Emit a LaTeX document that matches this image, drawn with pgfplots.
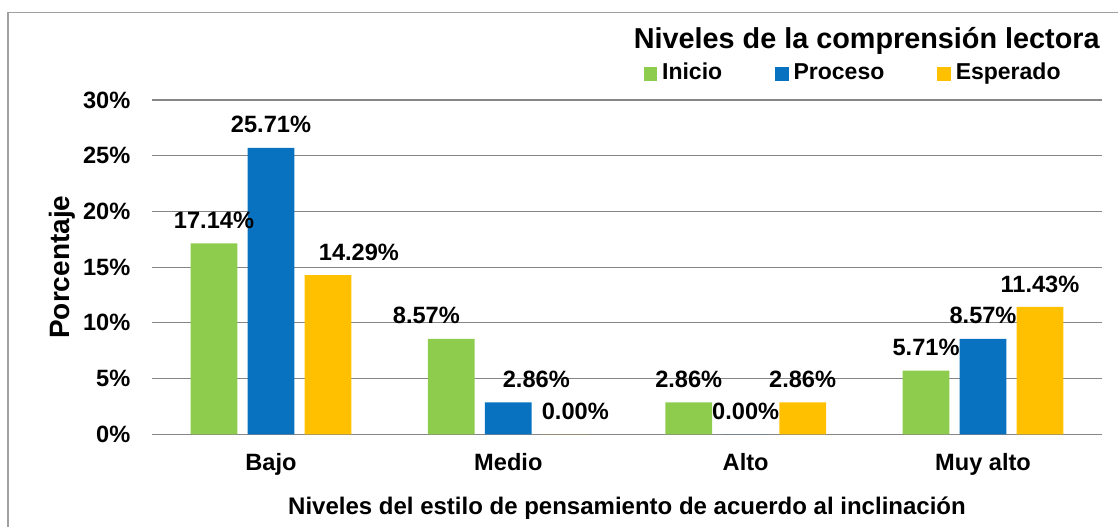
\documentclass[border=0pt]{standalone}
\usepackage{fontspec}
\setmainfont{Liberation Sans}
\usepackage{pgfplots}
\usepackage{pgfplotstable}
\pgfplotsset{compat=1.18}

\definecolor{gridgray}{RGB}{134,134,134}
\definecolor{framegray}{RGB}{160,160,160}
\definecolor{inicio}{RGB}{142,204,78}
\definecolor{proceso}{RGB}{8,114,192}
\definecolor{esperado}{RGB}{255,192,0}

% x = category (0 Bajo ... 3 Muy alto), y = percent, dx = label tweak in pt
\pgfplotstableread{
x y dx
0 17.14 0
1 8.57 -12.5
2 2.86 0
3 5.71 0
}\inicio
\pgfplotstableread{
x y dx
0 25.71 0
1 2.86 14
2 0.00 0
3 8.57 0
}\proceso
\pgfplotstableread{
x y dx
0 14.29 15.5
1 0.00 5
2 2.86 0
3 11.43 0
}\esperado

\pgfplotsset{
  sqlegend/.style={legend image code/.code={\fill[##1,draw=none] (0pt,-0.85pt) rectangle (6.7pt,5.85pt);}},
  % #1 = bar shift in pt, so the label sits over its own bar
  lbl/.style={
    nodes near coords={\pgfmathprintnumber[fixed,fixed zerofill,precision=2]{\pgfplotspointmeta}\%},
    point meta=y,
    visualization depends on={\thisrow{dx}\as\dx},
    every node near coord/.append style={anchor=center, inner sep=0pt, yshift=11.5pt, xshift=\dx pt+#1,
      font=\bfseries\fontsize{11.8}{14}\selectfont, text=black},
  },
}

\begin{document}
\begin{tikzpicture}
\useasboundingbox (0,0) rectangle (559pt,263.5pt);
\draw[framegray, line width=0.75pt] (4pt,0pt) -- (4pt,257.15pt) -- (560pt,257.15pt);
\begin{axis}[
  at={(76.15pt,46.35pt)}, anchor=south west,
  scale only axis, width=474.7pt, height=167.15pt,
  xmin=-0.5, xmax=3.5, ymin=0, ymax=30,
  xtick={0,1,2,3}, xticklabels={Bajo,Medio,Alto,Muy alto},
  ytick={0,5,...,30},
  yticklabel={\pgfmathprintnumber{\tick}\%},
  /pgf/number format/assume math mode=true,
  axis line style={draw=none},
  major tick length=0pt,
  ymajorgrids, grid style={gridgray, line width=0.6pt},
  tick label style={font=\bfseries\fontsize{11.8}{14}\selectfont},
  xticklabel style={anchor=base, inner sep=0pt, yshift=-17.85pt},
  yticklabel style={anchor=east, inner sep=0pt, xshift=-10.8pt},
  xlabel={Niveles del estilo de pensamiento de acuerdo al inclinación},
  xlabel style={at={(axis description cs:0.5,-0.1846)}, anchor=north, inner sep=0pt,
    font=\bfseries\fontsize{12}{14}\selectfont},
  ylabel={Porcentaje},
  ylabel style={at={(axis description cs:-0.095,0.5)}, anchor=center, inner sep=0pt,
    font=\bfseries\fontsize{14}{16}\selectfont},
  title={Niveles de la comprensión lectora},
  every axis title/.style={at={(axis description cs:0.7525,1.1547)}, anchor=base, inner sep=0pt,
    font=\bfseries\fontsize{14.4}{16}\selectfont},
  legend columns=3,
  legend style={at={(axis description cs:0.5172,1.0829)}, anchor=west, draw=none, fill=none,
    inner sep=0pt, font=\bfseries\fontsize{11.5}{13}\selectfont,
    nodes={inner sep=0pt, anchor=base west},
    /tikz/every odd column/.append style={column sep=2.5pt},
    /tikz/every even column/.append style={column sep=26.5pt}},
]
\addplot[ybar, bar width=0.197, bar shift=-0.24, fill=inicio, draw=none, sqlegend, lbl=-28.48pt]
  table[x=x, y=y] {\inicio};
\addlegendentry{Inicio}
\addplot[ybar, bar width=0.197, bar shift=0, fill=proceso, draw=none, sqlegend, lbl=0pt]
  table[x=x, y=y] {\proceso};
\addlegendentry{Proceso}
\addplot[ybar, bar width=0.197, bar shift=0.24, fill=esperado, draw=none, sqlegend, lbl=28.48pt]
  table[x=x, y=y] {\esperado};
\addlegendentry{Esperado}
\end{axis}
\end{tikzpicture}
\end{document}
